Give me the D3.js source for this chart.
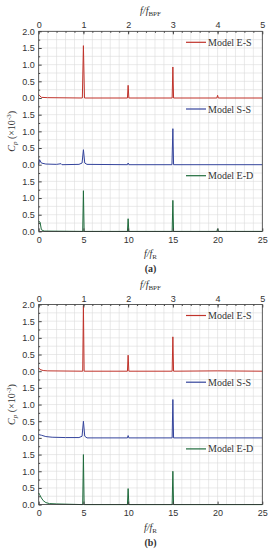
<!DOCTYPE html>
<html>
<head>
<meta charset="utf-8">
<script src="https://cdn.jsdelivr.net/npm/d3@7"></script>
<style>
  body { margin: 0; background: #fff; }
  svg text { fill: #333; }
</style>
</head>
<body>
<div id="chart"></div>
<script>
// ---- data ----
var xTicksR = [0, 5, 10, 15, 20, 25];
var xTicksBPF = [0, 1, 2, 3, 4, 5];
var yTicksTop = [0, 0.5, 1, 1.5, 2];
var yTicks = [0, 0.5, 1, 1.5];
var modelNames = ["Model E-S", "Model S-S", "Model E-D"];
var modelColors = ["#c0332b", "#34449c", "#1f6b3c"];
var figLabels = ["(a)", "(b)"];

// (a) [f/fR, Cp x1e-3]
var esA = [[0,0.1],[0.3,0.02],[1,0.01],[4.88,0],[5,1.57],[5.12,0],[9.92,0],[10,0.38],[10.08,0],[14.92,0],[15,0.93],[15.08,0],[19.92,0],[20,0.08],[20.08,0],[25,0]];
var ssA = [[0,0],[0.1,0.15],[0.3,0.05],[0.8,0.02],[2,0.01],[2.5,0.03],[2.6,0],[4.5,0.01],[4.85,0.05],[5,0.45],[5.15,0.05],[5.4,0.01],[9.92,0],[10,0.05],[10.08,0],[14.9,0],[15,1.08],[15.08,0],[25,0]];
var edA = [[0,0.3],[0.15,0.28],[0.3,0.05],[0.6,0.01],[4.92,0],[5,1.22],[5.08,0],[9.92,0],[10,0.38],[10.08,0],[14.92,0],[15,0.93],[15.08,0],[19.92,0],[20,0.08],[20.08,0],[25,0]];
// (b)
var esB = [[0,0.1],[0.15,0.05],[0.5,0.02],[1,0.01],[4.92,0],[5,1.97],[5.08,0],[9.92,0],[10,0.48],[10.08,0],[14.92,0],[15,1.03],[15.08,0],[20,0.01],[25,0]];
var ssB = [[0,0.1],[0.3,0.08],[0.8,0.04],[1.5,0.02],[3,0.01],[4.5,0.01],[4.85,0.05],[5,0.5],[5.15,0.05],[5.4,0],[9.92,0],[10,0.07],[10.08,0],[14.92,0],[15,1.15],[15.08,0],[25,0]];
var edB = [[0,0.35],[0.1,0.3],[0.3,0.2],[0.5,0.12],[0.8,0.06],[1.2,0.03],[2,0.02],[3.5,0.01],[4.92,0],[5,1.5],[5.08,0],[9.92,0],[10,0.48],[10.08,0],[14.92,0],[15,1.0],[15.08,0],[25,0]];

var W = 272, H = 550;
var left = 38.7, right = 262.3;
var panelH = 66.7;

var svg = d3.select("#chart").append("svg")
	.attr("width", W)
	.attr("height", H);

var x = d3.scaleLinear().domain([0, 25]).range([left, right]);
var xB = d3.scaleLinear().domain([0, 5]).range([left, right]);

var sans = "'Liberation Sans', Arial, sans-serif";
var serif = "'Liberation Serif', 'Times New Roman', serif";

function drawFigure(top, series, label) {

	var g = svg.append("g");
	var bottom = top + 3 * panelH;

	// grid
	g.append("g").selectAll("line")
		.data(d3.range(1, 25))
		.join("line")
		.attr("x1", function(d){ return x(d); })
		.attr("x2", function(d){ return x(d); })
		.attr("y1", top).attr("y2", bottom)
		.attr("stroke", "#dcdcdc").attr("stroke-width", 0.6);

	series.forEach(function(data, i){

		var pTop = top + i * panelH;
		var y = d3.scaleLinear().domain([0, 2]).range([pTop + panelH, pTop]);

		g.append("g").selectAll("line")
			.data(d3.range(0.25, 2, 0.25))
			.join("line")
			.attr("x1", left).attr("x2", right)
			.attr("y1", function(d){ return y(d); })
			.attr("y2", function(d){ return y(d); })
			.attr("stroke", "#dcdcdc").attr("stroke-width", 0.6);

		// left axis, inward ticks
		var ax = g.append("g")
			.attr("transform", "translate(" + left + ",0)")
			.call(d3.axisLeft(y).tickValues(i === 0 ? yTicksTop : yTicks)
				.tickSize(-3).tickPadding(4).tickFormat(d3.format(".1f")));
		ax.select(".domain").remove();
		ax.selectAll("text").style("font-family", sans).style("font-size", "9px");
		ax.selectAll("line").attr("stroke", "#444");

		var axm = g.append("g")
			.attr("transform", "translate(" + left + ",0)")
			.call(d3.axisLeft(y).tickValues(d3.range(0.25, 2, 0.5)).tickSize(-1.5).tickFormat(""));
		axm.select(".domain").remove();
		axm.selectAll("line").attr("stroke", "#444");

		// series line
		g.append("path")
			.datum(data)
			.attr("fill", "none")
			.attr("stroke", modelColors[i])
			.attr("stroke-width", 1)
			.attr("stroke-linejoin", "round")
			.attr("d", d3.line()
				.x(function(d){ return x(d[0]); })
				.y(function(d){ return y(d[1]); }));

		// legend
		var ly = pTop + 11;
		g.append("line")
			.attr("x1", 186).attr("x2", 206)
			.attr("y1", ly).attr("y2", ly)
			.attr("stroke", modelColors[i]).attr("stroke-width", 1.2);
		g.append("text")
			.attr("x", 208).attr("y", ly + 3.5)
			.style("font-family", serif).style("font-size", "10px")
			.text(modelNames[i]);
	});

	// frame
	g.append("rect")
		.attr("x", left).attr("y", top)
		.attr("width", right - left).attr("height", bottom - top)
		.attr("fill", "none").attr("stroke", "#333").attr("stroke-width", 0.8);

	// bottom axis (f/fR)
	var axB = g.append("g")
		.attr("transform", "translate(0," + bottom + ")")
		.call(d3.axisBottom(x).tickValues(xTicksR).tickSize(-3).tickPadding(5));
	axB.select(".domain").remove();
	axB.selectAll("text").style("font-family", sans).style("font-size", "9px");
	axB.selectAll("line").attr("stroke", "#444");

	// top axis (f/fBPF)
	var axT = g.append("g")
		.attr("transform", "translate(0," + top + ")")
		.call(d3.axisTop(xB).tickValues(xTicksBPF).tickSize(-3).tickPadding(3).tickFormat(d3.format("d")));
	axT.select(".domain").remove();
	axT.selectAll("text").style("font-family", sans).style("font-size", "9px");
	axT.selectAll("line").attr("stroke", "#444");

	var axTm = g.append("g")
		.attr("transform", "translate(0," + top + ")")
		.call(d3.axisTop(xB).tickValues(d3.range(0.2, 5, 0.2)).tickSize(-1.5).tickFormat(""));
	axTm.select(".domain").remove();
	axTm.selectAll("line").attr("stroke", "#444");

	// axis titles
	var tt = g.append("text")
		.attr("x", (left + right) / 2).attr("y", top - 17)
		.attr("text-anchor", "middle")
		.style("font-family", serif).style("font-size", "10px").style("font-style", "italic");
	tt.append("tspan").text("f/f");
	tt.append("tspan").attr("dy", 2).style("font-size", "7px").style("font-style", "normal").text("BPF");

	var bt = g.append("text")
		.attr("x", (left + right) / 2).attr("y", bottom + 26)
		.attr("text-anchor", "middle")
		.style("font-family", serif).style("font-size", "10px").style("font-style", "italic");
	bt.append("tspan").text("f/f");
	bt.append("tspan").attr("dy", 2).style("font-size", "7px").style("font-style", "normal").text("R");

	var yl = g.append("text")
		.attr("transform", "translate(15," + (top + 1.5 * panelH) + ") rotate(-90)")
		.attr("text-anchor", "middle")
		.style("font-family", serif).style("font-size", "10px");
	yl.append("tspan").style("font-style", "italic").text("C");
	yl.append("tspan").attr("dy", 2).style("font-size", "7px").style("font-style", "italic").text("p");
	yl.append("tspan").attr("dy", -2).text(" (×10");
	yl.append("tspan").attr("dy", -4).style("font-size", "7px").text("-3");
	yl.append("tspan").attr("dy", 4).text(")");

	g.append("text")
		.attr("x", (left + right) / 2).attr("y", bottom + 41)
		.attr("text-anchor", "middle")
		.style("font-family", serif).style("font-size", "10px").style("font-weight", "bold")
		.text(label);
}

drawFigure(31.3, [esA, ssA, edA], figLabels[0]);
drawFigure(304.5, [esB, ssB, edB], figLabels[1]);
</script>
</body>
</html>
